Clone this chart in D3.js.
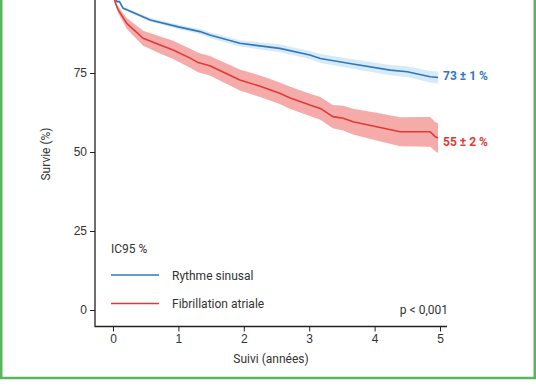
<!DOCTYPE html>
<html>
<head>
<meta charset="utf-8">
<script src="https://cdn.jsdelivr.net/npm/d3@7"></script>
<style>
  body { margin: 0; background: #fff; }
  svg { display: block; font-family: Roboto, "DejaVu Sans", sans-serif; }
  .tick text { fill: #333; font-size: 12px; }
  .tick line { stroke: #222; }
</style>
</head>
<body>
<svg width="536" height="386"></svg>
<script>

// Rythme sinusal (temps en années, survie %, IC95)
let rs_t   = [0, 0.06, 0.1, 0.15, 0.3, 0.57, 1.0, 1.33, 1.48, 1.94, 2.55, 3.01, 3.17, 3.62, 4.24, 4.5, 4.85, 4.97]
let rs_v   = [100, 97.6, 97.6, 95.6, 94.2, 91.8, 89.6, 88.1, 87.0, 84.4, 82.8, 80.7, 79.6, 78.0, 75.9, 75.4, 73.8, 73.6]
let rs_lo  = [100, 97.3, 97.2, 95.2, 93.7, 91.2, 88.9, 87.3, 86.1, 83.4, 81.6, 79.4, 78.2, 76.5, 74.3, 73.7, 72.0, 71.7]
let rs_hi  = [100, 97.9, 98.0, 96.0, 94.7, 92.4, 90.3, 88.9, 87.9, 85.4, 84.0, 82.0, 81.0, 79.5, 77.5, 77.1, 75.6, 75.5]

// Fibrillation atriale
let fa_t   = [0, 0.04, 0.08, 0.21, 0.46, 0.7, 0.92, 1.18, 1.3, 1.48, 1.94, 2.25, 2.55, 2.7, 3.01, 3.17, 3.36, 3.52, 3.67, 4.03, 4.39, 4.85, 4.93, 4.97]
let fa_v   = [100, 97, 95, 90.7, 86, 84, 82.3, 79.7, 78.3, 77.3, 72.8, 70.8, 68.6, 67.2, 64.9, 63.8, 61.2, 60.7, 59.6, 58, 56.4, 56.4, 54.8, 54.4]
let fa_lo  = [100, 96.4, 94, 89.0, 83.6, 81.3, 79.4, 76.7, 75.2, 74.2, 69.5, 67.4, 65.2, 63.7, 61.4, 60.2, 57.5, 56.8, 55.5, 53.6, 51.8, 51.7, 50.2, 49.7]
let fa_hi  = [100, 97.6, 96, 92.4, 88.4, 86.7, 85.2, 82.7, 81.4, 80.4, 76.1, 74.2, 72.0, 70.7, 68.4, 67.4, 64.9, 64.6, 63.7, 62.4, 61.0, 61.1, 59.4, 59.1]

let x_ticks = [0, 1, 2, 3, 4, 5]
let y_ticks = [0, 25, 50, 75]

let bleu = '#2f78bf', bleu_ic = '#d3e8f6'
let rouge = '#e03a34', rouge_ic = '#f3a2a1'


let svg = d3.select('svg')

let x = d3.scaleLinear().domain([0, 5]).range([113, 440])
let y = d3.scaleLinear().domain([0, 100]).range([310, -6])

let serie = (t, v, lo, hi) => t.map((d, i) => ({t: d, v: v[i], lo: lo[i], hi: hi[i]}))

let series = [
  {nom: 'Rythme sinusal', data: serie(rs_t, rs_v, rs_lo, rs_hi), c: bleu, ic: bleu_ic, etiq: '73 ± 1 %', dy: 3},
  {nom: 'Fibrillation atriale', data: serie(fa_t, fa_v, fa_lo, fa_hi), c: rouge, ic: rouge_ic, etiq: '55 ± 2 %', dy: 8}
]

let aire = d3.area()
  .x(d => x(d.t)).y0(d => y(d.lo)).y1(d => y(d.hi))

let ligne = d3.line()
  .x(d => x(d.t)).y(d => y(d.v))

// bandes IC95
svg.selectAll('path.ic')
  .data(series).enter().append('path')
  .attr('class', 'ic')
  .attr('d', d => aire(d.data))
  .attr('fill', d => d.ic)
  .attr('opacity', 0.9)

// courbes
svg.selectAll('path.courbe')
  .data(series).enter().append('path')
  .attr('class', 'courbe')
  .attr('d', d => ligne(d.data))
  .attr('fill', 'none')
  .attr('stroke', d => d.c)
  .attr('stroke-width', 1.6)
  .attr('stroke-linejoin', 'round')

// etiquettes de fin
svg.selectAll('text.fin')
  .data(series).enter().append('text')
  .attr('class', 'fin')
  .attr('x', 443)
  .attr('y', d => y(d.data[d.data.length - 1].v) + d.dy)
  .attr('fill', d => d.c)
  .attr('font-size', 12)
  .attr('font-weight', 'bold')
  .text(d => d.etiq)


/* Axes */

let gy = svg.append('g')
  .attr('transform', `translate(95,0)`)
  .call(d3.axisLeft(y).tickValues(y_ticks).tickFormat(d3.format('d')).tickSize(5).tickPadding(3))
gy.select('.domain').remove()

let gx = svg.append('g')
  .attr('transform', `translate(0,326.5)`)
  .call(d3.axisBottom(x).tickValues(x_ticks).tickFormat(d3.format('d')).tickSize(5).tickPadding(3))
gx.select('.domain').remove()

svg.append('path')
  .attr('d', 'M95,-10V326.5H447')
  .attr('fill', 'none')
  .attr('stroke', '#222')
  .attr('stroke-width', 1.3)

svg.append('text')
  .attr('transform', 'translate(50,154) rotate(-90)')
  .attr('text-anchor', 'middle')
  .attr('font-size', 12)
  .attr('fill', '#333')
  .text('Survie (%)')

svg.append('text')
  .attr('x', 271).attr('y', 363)
  .attr('text-anchor', 'middle')
  .attr('font-size', 12)
  .attr('fill', '#333')
  .text('Suivi (années)')


/* Legende */

svg.append('text')
  .attr('x', 111).attr('y', 253)
  .attr('font-size', 12).attr('fill', '#333')
  .text('IC95 %')

let leg = svg.selectAll('g.leg')
  .data(series).enter().append('g')
  .attr('class', 'leg')
  .attr('transform', (d, i) => `translate(111, ${275 + i * 28.5})`)

leg.append('line')
  .attr('x1', 0).attr('x2', 48)
  .attr('stroke', d => d.c).attr('stroke-width', 1.6)

leg.append('text')
  .attr('x', 61).attr('y', 4.5)
  .attr('font-size', 12).attr('fill', '#333')
  .text(d => d.nom)

svg.append('text')
  .attr('x', 448).attr('y', 314)
  .attr('text-anchor', 'end')
  .attr('font-size', 12).attr('fill', '#333')
  .text('p < 0,001')


// cadre vert
svg.append('rect')
  .attr('x', 1.25).attr('y', -10)
  .attr('width', 533.5).attr('height', 388)
  .attr('fill', 'none')
  .attr('stroke', '#5bb55f')
  .attr('stroke-width', 2.5)

</script>
</body>
</html>
